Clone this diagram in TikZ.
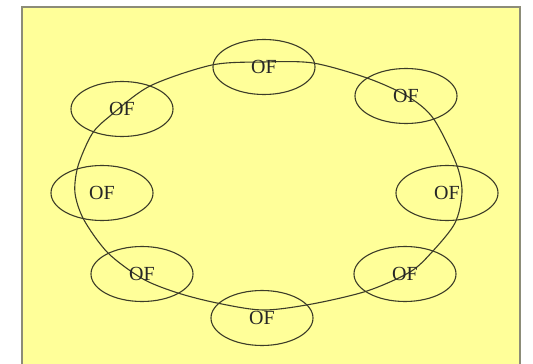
\documentclass[tikz,border=0pt]{standalone}
\usepackage{fontspec}
\setmainfont{Liberation Serif}
\usetikzlibrary{shapes.geometric}
\definecolor{bgyellow}{RGB}{255,255,153}
\definecolor{framegray}{RGB}{140,140,120}
\definecolor{linegray}{RGB}{60,60,40}
\begin{document}
\begin{tikzpicture}[x=1pt,y=-1pt,
  ofnode/.style={ellipse,draw=linegray,line width=1.1pt,minimum width=102pt,minimum height=55pt,inner sep=0pt,font=\fontsize{20}{20}\selectfont,text=black!85},
  ring/.style={draw=linegray,line width=1.1pt}]
\useasboundingbox (0,0) rectangle (533,364);
\fill[white] (0,0) rectangle (533,364);
\begin{scope}
\clip (0,0) rectangle (533,364);
\draw[fill=bgyellow,draw=framegray,line width=1.2pt] (22,7) rectangle (520,380);
\end{scope}
% ring points
\coordinate (p1) at (263,62);
\coordinate (p2) at (313,63);
\coordinate (p3) at (367,78);
\coordinate (p4) at (407,96);
\coordinate (p5) at (433,118);
\coordinate (p6) at (456,163);
\coordinate (p7) at (462,192);
\coordinate (p8) at (455,223);
\coordinate (p9) at (432,252);
\coordinate (p10) at (410,272);
\coordinate (p11) at (367,291);
\coordinate (p12) at (312,304);
\coordinate (p13) at (263,310);
\coordinate (p14) at (217,303);
\coordinate (p15) at (178,293);
\coordinate (p16) at (143,279);
\coordinate (p17) at (108,253);
\coordinate (p18) at (84,220);
\coordinate (p19) at (75,193);
\coordinate (p20) at (78,166);
\coordinate (p21) at (92,134);
\coordinate (p22) at (110,116);
\coordinate (p23) at (150,86);
\coordinate (p24) at (212,65);
\draw[ring] plot[smooth cycle,tension=0.5] coordinates {(p1) (p2) (p3) (p4) (p5) (p6) (p7) (p8) (p9) (p10) (p11) (p12) (p13) (p14) (p15) (p16) (p17) (p18) (p19) (p20) (p21) (p22) (p23) (p24)};
% nodes
\node[ofnode] (top) at (264,67) {OF};
\node[ofnode] (tr) at (406,96) {OF};
\node[ofnode] (r) at (447,193) {OF};
\node[ofnode] (br) at (405,274) {OF};
\node[ofnode] (b) at (262,318) {OF};
\node[ofnode] (bl) at (142,274) {OF};
\node[ofnode] (l) at (102,193) {OF};
\node[ofnode] (tl) at (122,109) {OF};
\end{tikzpicture}
\end{document}
